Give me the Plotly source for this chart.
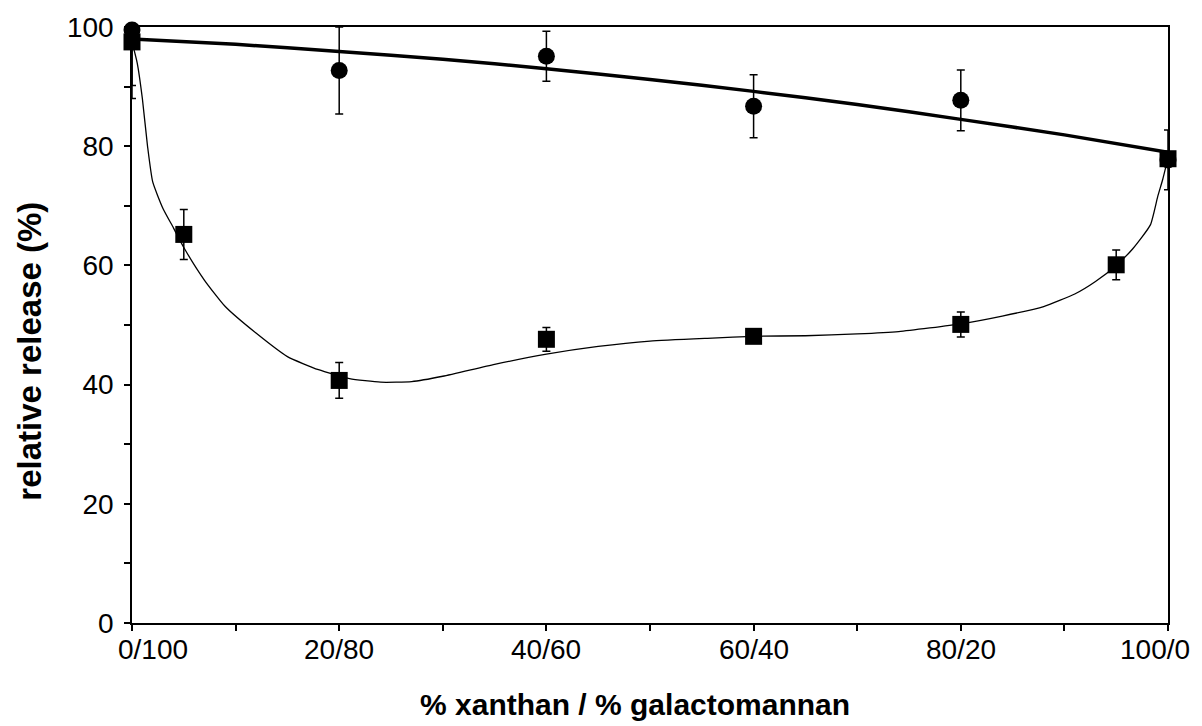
import plotly.graph_objects as go

# Measured release, xanthan/galactomannan blends (circles)
xanthan_circles = [0, 20, 40, 60, 80, 100]
release_circles = [99.5, 92.7, 95.1, 86.7, 87.7, 77.7]
err_circles = [11.5, 7.3, 4.2, 5.3, 5.1, 5.0]

# Measured release (squares)
xanthan_squares = [0, 5, 20, 40, 60, 80, 95, 100]
release_squares = [97.5, 65.2, 40.7, 47.6, 48.1, 50.1, 60.1, 77.9]
err_squares = [7.3, 4.2, 3.0, 2.0, 0.6, 2.1, 2.5, 0.0]

# Trend line for the circle series
trend_circles_x = [0, 10, 20, 30, 40, 50, 60, 70, 80, 90, 100]
trend_circles_y = [98.0, 97.1, 95.9, 94.6, 93.0, 91.2, 89.2, 87.0, 84.5, 81.9, 79.0]

# Fitted curve for the square series
trend_squares_x = [0, 0.5, 1, 1.5, 2, 3, 4, 5, 7, 9, 12, 15, 18, 21, 24, 27, 30, 35,
                   40, 45, 50, 56, 60, 65, 70, 74, 80, 84, 88, 91, 93, 95, 96.6,
                   98.3, 99, 99.5, 100]
trend_squares_y = [97.5, 94.0, 88.0, 80.0, 74.0, 69.5, 66.3, 63.0, 57.5, 53.1, 48.6,
                   44.7, 42.5, 41.0, 40.4, 40.5, 41.4, 43.4, 45.1, 46.4, 47.3, 47.8,
                   48.1, 48.2, 48.5, 48.9, 50.2, 51.5, 53.1, 55.2, 57.3, 60.0, 62.8,
                   66.8, 71.5, 74.5, 78.0]

tick_vals = [0, 20, 40, 60, 80, 100]
tick_text = ["0/100", "20/80", "40/60", "60/40", "80/20", "100/0"]
tick_shift = [21, 0, 0, 0, 0, -13]

FONT = "Liberation Sans, Arial, sans-serif"

fig = go.Figure()

fig.add_trace(go.Scatter(
    x=trend_circles_x, y=trend_circles_y, mode="lines",
    line=dict(color="black", width=3.5, shape="spline", smoothing=0.6),
    hoverinfo="skip", showlegend=False, cliponaxis=False))

fig.add_trace(go.Scatter(
    x=trend_squares_x, y=trend_squares_y, mode="lines",
    line=dict(color="black", width=1.3, shape="spline", smoothing=0.5),
    hoverinfo="skip", showlegend=False, cliponaxis=False))

fig.add_trace(go.Scatter(
    x=xanthan_circles, y=release_circles, mode="markers",
    marker=dict(symbol="circle", size=17, color="black"),
    error_y=dict(type="data", array=err_circles, color="black", thickness=1.5, width=4),
    showlegend=False, cliponaxis=False))

fig.add_trace(go.Scatter(
    x=xanthan_squares, y=release_squares, mode="markers",
    marker=dict(symbol="square", size=17, color="black"),
    error_y=dict(type="data", array=err_squares, color="black", thickness=1.5, width=4),
    showlegend=False, cliponaxis=False))

# x tick labels
for v, t, s in zip(tick_vals, tick_text, tick_shift):
    fig.add_annotation(x=v, y=0, xref="x", yref="paper", text=t, showarrow=False,
                       xanchor="center", yanchor="top", xshift=s, yshift=-9,
                       font=dict(family=FONT, size=28, color="black"))

fig.add_annotation(x=0.4857, y=-0.137, xref="paper", yref="paper",
                   text="<b>% xanthan / % galactomannan</b>", showarrow=False,
                   xanchor="center", yanchor="middle",
                   font=dict(family=FONT, size=30, color="black"))
fig.add_annotation(x=-0.099, y=0.456, xref="paper", yref="paper",
                   text="<b>relative release (%)</b>", showarrow=False, textangle=-90,
                   xanchor="center", yanchor="middle",
                   font=dict(family=FONT, size=33, color="black"))

fig.update_layout(
    width=1202, height=726,
    margin=dict(l=132, r=34, t=18, b=103),
    paper_bgcolor="white", plot_bgcolor="white",
    font=dict(family=FONT, size=28, color="black"),
    xaxis=dict(range=[0, 100], tickvals=tick_vals, showticklabels=False,
               ticks="outside", ticklen=6, tickwidth=1.5, tickcolor="black",
               minor=dict(ticks="outside", dtick=10, tick0=0, ticklen=6,
                          tickwidth=1.5, tickcolor="black"),
               showline=True, linecolor="black", linewidth=1.5, mirror=True,
               showgrid=False, zeroline=False),
    yaxis=dict(range=[0, 100], tickvals=[0, 20, 40, 60, 80, 100],
               ticks="outside", ticklen=6, tickwidth=1.5, tickcolor="black",
               minor=dict(ticks="outside", dtick=10, tick0=0, ticklen=6,
                          tickwidth=1.5, tickcolor="black"),
               ticklabelstandoff=5,
               tickfont=dict(family=FONT, size=28, color="black"),
               showline=True, linecolor="black", linewidth=1.5, mirror=True,
               showgrid=False, zeroline=False),
)

fig.write_html("out.html")
